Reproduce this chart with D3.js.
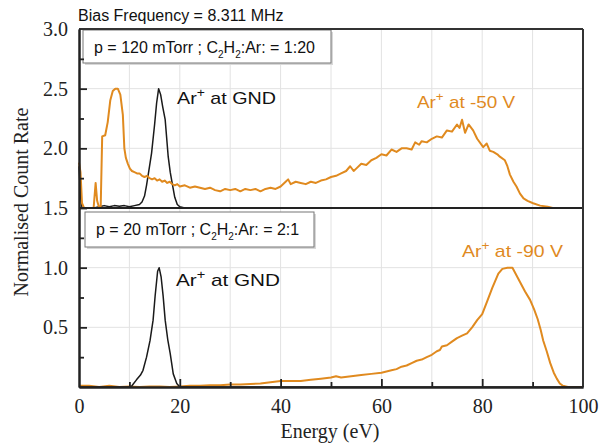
<!DOCTYPE html>
<html><head><meta charset="utf-8">
<script src="https://cdn.jsdelivr.net/npm/d3@7"></script>
<style>body{margin:0;background:#fff}svg{display:block}</style>
</head><body>
<script>
// ---- data ----
const xTicks = [0, 20, 40, 60, 80, 100];
const yTickValues = [0.5, 1.0, 1.5, 2.0, 2.5, 3.0];
const yTickLabels = ["0.5", "1.0", "1.5", "2.0", "2.5", "3.0"];
const topOffset = 1.5;
// top panel (120 mTorr), values relative to offset
const topGndE = [0,0.3,0.6,3,4,5,6,7,8,9,10,11,12,12.5,13,13.4,14,14.4,15,15.4,15.8,16.2,16.6,17.1,17.7,18.1,18.4,19,19.5,20,21,100];
const topGndV = [0.35,0.1,0,0,0.01,0.02,0.01,0.02,0.015,0.02,0.01,0.02,0.03,0.05,0.1,0.19,0.35,0.46,0.7,0.88,1.0,0.95,0.85,0.74,0.43,0.3,0.23,0.09,0.03,0.01,0,0];
const top50E = [0,0.3,0.6,1,2,2.9,3.3,3.6,4.0,4.3,4.6,5.2,5.7,6.2,6.7,7.2,7.7,8.2,8.7,9.0,9.3,9.7,10.1,10.5,11,11.5,12,12.5,13,13.5,14,14.5,15,15.5,16,16.5,17,17.5,18,18.5,19,19.5,20,21,22,23,24,25,26,27,28,29,30,31,32,33,34,35,36,37,38,39,40,41,41.5,42,43,44,45,46,47,48,49,50,51,52,53,53.8,54.5,55,56,57,58,59,60,61,62,63,64,65,66,66.7,67.5,68,69,70,71,72,73,74,75,75.5,76,76.6,77.3,78.2,79,80.2,80.9,81.5,82.2,83,83.5,84.5,85,85.5,86.2,86.8,87.5,88.2,89,90.1,91.5,93,94,100];
const top50V = [0.38,0.3,0.04,0,0,0,0.21,0.06,0,0,0.6,0.61,0.72,0.9,0.98,1.0,1.0,0.95,0.78,0.5,0.42,0.37,0.33,0.31,0.30,0.29,0.29,0.27,0.26,0.27,0.25,0.24,0.25,0.23,0.24,0.22,0.23,0.21,0.22,0.2,0.19,0.2,0.18,0.19,0.17,0.18,0.17,0.16,0.17,0.15,0.14,0.16,0.15,0.16,0.14,0.16,0.15,0.16,0.14,0.16,0.17,0.16,0.18,0.22,0.24,0.2,0.22,0.21,0.2,0.22,0.21,0.23,0.24,0.26,0.27,0.29,0.31,0.35,0.31,0.33,0.37,0.36,0.40,0.42,0.45,0.44,0.49,0.47,0.5,0.5,0.49,0.55,0.53,0.56,0.55,0.58,0.6,0.59,0.65,0.64,0.70,0.67,0.74,0.63,0.70,0.65,0.58,0.51,0.54,0.48,0.47,0.45,0.43,0.40,0.35,0.28,0.22,0.18,0.12,0.08,0.06,0.04,0.02,0.01,0,0];
// bottom panel (20 mTorr)
const botGndE = [0,10,10.5,11.4,12.2,12.7,13.4,14.1,14.7,15.1,15.6,15.9,16.3,16.7,17.1,17.6,18.1,18.7,19.4,20,21,100];
const botGndV = [0,0,0.01,0.06,0.1,0.14,0.25,0.39,0.56,0.76,0.97,1.0,0.92,0.76,0.56,0.4,0.28,0.11,0.03,0,0,0];
const bot90E = [0,2,4,6,8,10,12,14,16,18,20,22,24,26,28,30,32,34,36,38,40,42,44,46,48,50,51,52,54,56,58,60,61,62,63,64,65,66,67,68,69,70,71,71.6,72,73,74,75,76,77,78,79,80,81,82,83.2,84,85,86,86.5,87.5,88.5,89.5,90.3,91,91.6,92.1,92.8,93.5,94.2,94.8,95.4,96,97,100];
const bot90V = [0.01,0.01,0,0.01,0,0.005,0,0.005,0.005,0,0.005,0.01,0.01,0.015,0.015,0.02,0.02,0.025,0.03,0.04,0.05,0.05,0.05,0.06,0.07,0.08,0.09,0.08,0.09,0.1,0.11,0.12,0.13,0.14,0.15,0.17,0.18,0.2,0.22,0.23,0.25,0.27,0.3,0.31,0.34,0.35,0.38,0.41,0.43,0.45,0.5,0.56,0.61,0.72,0.83,0.95,0.99,1.0,1.0,0.96,0.88,0.8,0.73,0.65,0.57,0.48,0.39,0.3,0.2,0.12,0.07,0.03,0.01,0,0];

const W = 601, H = 443;
const L = 79, R = 583, T = 29, B = 387;
const orange = "#E08A1F", black = "#1a1a1a";
const sans = "Liberation Sans, Arial, sans-serif";
const serif = "Liberation Serif, Times New Roman, serif";

const svg = d3.select("body").append("svg").attr("width", W).attr("height", H);
const x = d3.scaleLinear().domain([0, 100]).range([L, R]);
const y = d3.scaleLinear().domain([0, 3]).range([B, T]);

// grid
const g = svg.append("g");
g.selectAll("line.gx").data(d3.range(10, 100, 10)).join("line")
  .attr("x1", d => x(d)).attr("x2", d => x(d)).attr("y1", T).attr("y2", B)
  .attr("stroke", "#e2e2e2").attr("stroke-width", 1);
g.selectAll("line.gy").data([0.5, 1.0, 2.0, 2.5]).join("line")
  .attr("y1", d => y(d)).attr("y2", d => y(d)).attr("x1", L).attr("x2", R)
  .attr("stroke", "#e2e2e2").attr("stroke-width", 1);

// legend boxes
function box(x0, y0, x1, y1) {
  svg.append("rect").attr("x", x0 + 2).attr("y", y0 + 2).attr("width", x1 - x0).attr("height", y1 - y0).attr("fill", "#d8d8d8");
  svg.append("rect").attr("x", x0).attr("y", y0).attr("width", x1 - x0).attr("height", y1 - y0).attr("fill", "#fff").attr("stroke", "#777").attr("stroke-width", 1);
}
box(83, 30, 331, 63);
box(85, 212, 314, 247);

function legendText(xx, yy, pre, post) {
  const t = svg.append("text").attr("x", xx).attr("y", yy).attr("font-family", sans).attr("font-size", 16).attr("fill", "#111");
  t.append("tspan").text(pre + "C");
  t.append("tspan").text("2").attr("font-size", 10).attr("dy", 5);
  t.append("tspan").text("H").attr("dy", -5);
  t.append("tspan").text("2").attr("font-size", 10).attr("dy", 5);
  t.append("tspan").text(post).attr("dy", -5);
}
legendText(94, 53, "p = 120 mTorr ; ", ":Ar: = 1:20");
legendText(96, 235, "p = 20 mTorr ; ", ":Ar: = 2:1");

// lines
const line = d3.line().x(d => x(d[0])).y(d => y(d[1]));
function draw(E, V, off, col, w) {
  svg.append("path").datum(E.map((e, i) => [e, V[i] + off])).attr("d", line)
    .attr("fill", "none").attr("stroke", col).attr("stroke-width", w).attr("stroke-linejoin", "round");
}
draw(bot90E, bot90V, 0, orange, 2);
draw(botGndE, botGndV, 0, black, 1.5);
draw(topGndE, topGndV, topOffset, black, 1.5);
draw(top50E, top50V, topOffset, orange, 2);

// divider at 1.5
svg.append("line").attr("x1", L).attr("x2", R).attr("y1", y(topOffset)).attr("y2", y(topOffset)).attr("stroke", "#222").attr("stroke-width", 1.8);

// frame
svg.append("line").attr("x1", L).attr("x2", R).attr("y1", T).attr("y2", T).attr("stroke", "#333").attr("stroke-width", 2);
svg.append("line").attr("x1", R).attr("x2", R).attr("y1", T).attr("y2", B).attr("stroke", "#333").attr("stroke-width", 2);

// axes
const yAxis = d3.axisLeft(y).tickValues(yTickValues).tickFormat((d, i) => yTickLabels[i]).tickSizeInner(-8).tickSizeOuter(0).tickPadding(11);
const ya = svg.append("g").attr("transform", `translate(${L},0)`).call(yAxis);
const yMinor = d3.axisLeft(y).tickValues([0.25, 0.75, 1.25, 1.75, 2.25, 2.75]).tickFormat("").tickSizeInner(-5).tickSizeOuter(0);
const ym = svg.append("g").attr("transform", `translate(${L},0)`).call(yMinor);
const xAxis = d3.axisBottom(x).tickValues(xTicks).tickSizeInner(-8).tickSizeOuter(0).tickPadding(12);
const xa = svg.append("g").attr("transform", `translate(0,${B})`).call(xAxis);
const xMinor = d3.axisBottom(x).tickValues([10, 30, 50, 70, 90]).tickFormat("").tickSizeInner(-5).tickSizeOuter(0);
const xm = svg.append("g").attr("transform", `translate(0,${B})`).call(xMinor);
[ya, ym, xa, xm].forEach(a => {
  a.select(".domain").attr("stroke", "#222").attr("stroke-width", 2);
  a.selectAll(".tick line").attr("stroke", "#222").attr("stroke-width", 1.8);
  a.selectAll("text").attr("font-family", serif).attr("font-size", 20).attr("fill", "#222");
});
xa.selectAll(".tick").filter(d => d === 0 || d === 100).select("line").remove();
ya.selectAll(".tick").filter(d => d === 3.0).select("line").remove();

// titles
svg.append("text").attr("x", 330).attr("y", 438).attr("text-anchor", "middle")
  .attr("font-family", serif).attr("font-size", 20).attr("fill", "#222").text("Energy (eV)");
svg.append("text").attr("transform", "translate(28,202) rotate(-90)").attr("text-anchor", "middle")
  .attr("font-family", serif).attr("font-size", 20).attr("fill", "#222").text("Normalised Count Rate");
svg.append("text").attr("x", 78).attr("y", 21).attr("font-family", sans).attr("font-size", 16).attr("fill", "#111").text("Bias Frequency = 8.311 MHz");

// annotations
function ann(xx, yy, rest, col, len) {
  const t = svg.append("text").attr("x", xx).attr("y", yy).attr("font-family", sans).attr("font-size", 17).attr("fill", col)
    .attr("textLength", len).attr("lengthAdjust", "spacingAndGlyphs");
  t.append("tspan").text("Ar");
  t.append("tspan").text("+").attr("font-size", 12).attr("dy", -7);
  t.append("tspan").text(rest).attr("dy", 7);
}
ann(177, 104, " at GND", "#111", 99);
ann(417, 108, " at -50 V", orange, 98);
ann(176, 286, " at GND", "#111", 104);
ann(462, 257, " at -90 V", orange, 101);
</script>
</body></html>
